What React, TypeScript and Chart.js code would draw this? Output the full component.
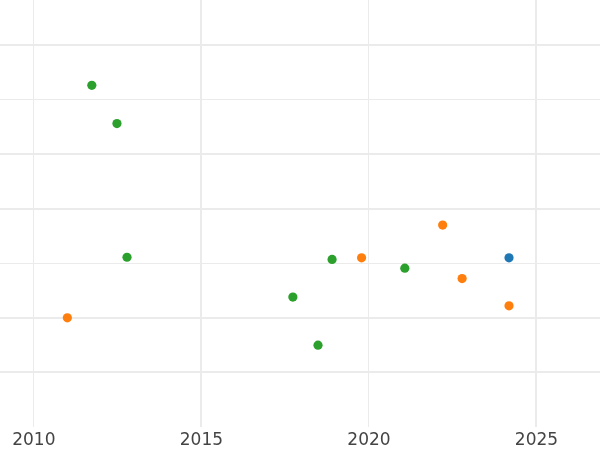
import React, { useEffect, useRef } from "react";
import { Chart, registerables } from "chart.js";

Chart.register(...registerables);

const greenX = [2011.73, 2012.48, 2012.78, 2017.73, 2018.48, 2018.9, 2021.07];
const greenY = [6.26, 5.56, 3.11, 2.38, 1.5, 3.07, 2.91];
const orangeX = [2011.0, 2019.78, 2022.2, 2022.78, 2024.18];
const orangeY = [2.0, 3.1, 3.7, 2.72, 2.22];
const blueX = [2024.18];
const blueY = [3.1];

const xTicks = [2010, 2015, 2020, 2025];
const yTicks = [1, 2, 3, 4, 5, 6, 7];
const thinX = [2010, 2020];
const thinY = [3, 6];

const toPts = (xs: number[], ys: number[]) => xs.map((x, i) => ({ x, y: ys[i] }));

export default function App() {
  const ref = useRef<HTMLCanvasElement | null>(null);
  useEffect(() => {
    if (!ref.current) return;
    const mk = (label: string, xs: number[], ys: number[], color: string) => ({
      label,
      data: toPts(xs, ys),
      backgroundColor: color,
      borderColor: color,
      borderWidth: 0,
      pointRadius: 4.6,
      pointHoverRadius: 4.6,
    });
    const chart = new Chart(ref.current, {
      type: "scatter",
      data: {
        datasets: [
          mk("blue", blueX, blueY, "#1f77b4"),
          mk("orange", orangeX, orangeY, "#ff7f0e"),
          mk("green", greenX, greenY, "#2ca02c"),
        ],
      },
      options: {
        animation: false,
        responsive: false,
        maintainAspectRatio: false,
        layout: { padding: 0, autoPadding: false },
        plugins: { legend: { display: false }, tooltip: { enabled: false } },
        scales: {
          x: {
            type: "linear",
            min: 2008.99,
            max: 2026.895,
            afterBuildTicks: (s: any) => {
              s.ticks = xTicks.map((v) => ({ value: v }));
            },
            afterFit: (s: any) => {
              s.height = 23;
            },
            border: { display: false },
            grid: {
              color: "#ebebeb",
              drawTicks: false,
              lineWidth: (c: any) => (thinX.includes(c.tick?.value) ? 1 : 2),
            },
            ticks: {
              padding: 3,
              color: "#444444",
              font: { family: "DejaVu Sans", size: 17 },
              callback: (v: any) => String(v),
              maxRotation: 0,
              autoSkip: false,
            },
          },
          y: {
            type: "linear",
            min: 0,
            max: 7.824,
            afterBuildTicks: (s: any) => {
              s.ticks = yTicks.map((v) => ({ value: v }));
            },
            afterFit: (s: any) => {
              s.width = 0;
            },
            border: { display: false },
            grid: {
              color: "#ebebeb",
              drawTicks: false,
              lineWidth: (c: any) => (thinY.includes(c.tick?.value) ? 1 : 2),
            },
            ticks: { display: false },
          },
        },
      },
    });
    return () => chart.destroy();
  }, []);
  return (
    <div style={{ position: "fixed", left: 0, top: 0, width: 600, height: 450, background: "#fff" }}>
      <canvas ref={ref} width={600} height={450} style={{ width: 600, height: 450 }} />
    </div>
  );
}
